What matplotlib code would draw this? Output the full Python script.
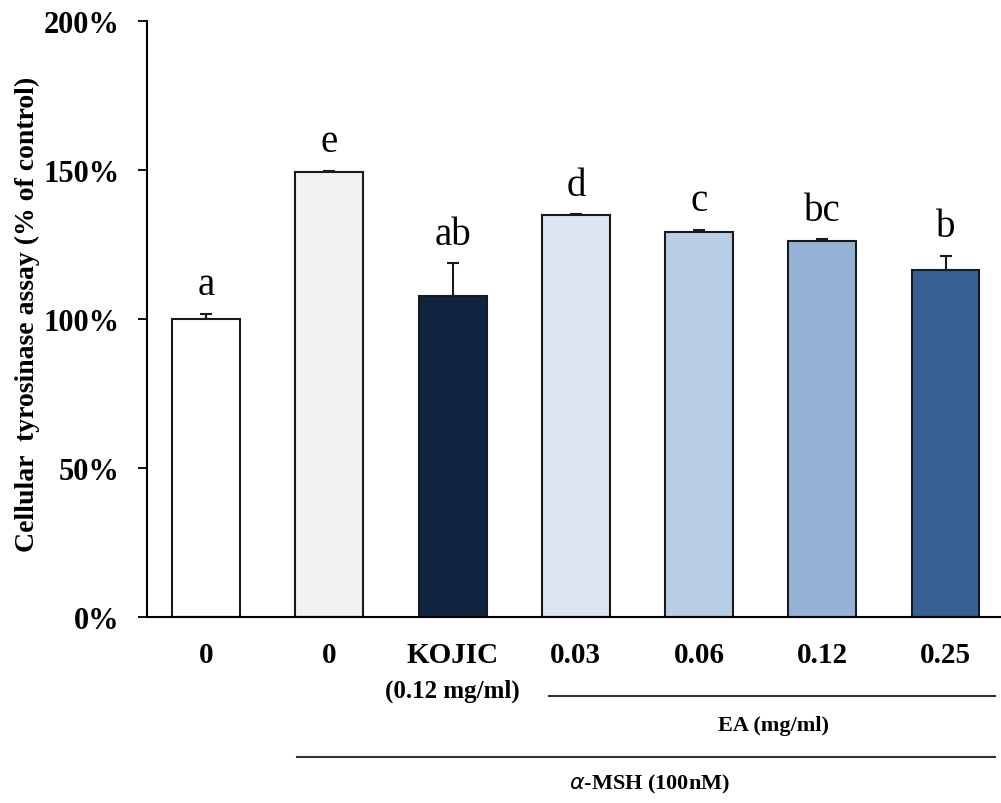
import numpy as np
import matplotlib.pyplot as plt
from matplotlib.transforms import blended_transform_factory

# данные
groups = ['0', '0', 'KOJIC', '0.03', '0.06', '0.12', '0.25']
values = [100.0, 149.2, 107.6, 134.8, 129.3, 126.2, 116.3]
errors = [1.8, 0.6, 11.2, 0.3, 0.6, 0.6, 4.9]
letters = ['a', 'e', 'ab', 'd', 'c', 'bc', 'b']
colors = ['#FFFFFF', '#F2F2F2', '#10243F', '#DCE6F2', '#B9CDE5', '#95B3D7', '#376092']
yticks = [0, 50, 100, 150, 200]

serif = 'Liberation Serif'

fig = plt.figure(figsize=(10.01, 8.04), dpi=100)
ax = fig.add_axes([147 / 1001, 186 / 804, 1 - 147 / 1001, 596 / 804])

x = np.arange(len(values))
ax.bar(x, values, width=0.55, color=colors, edgecolor='#1a1a1a', linewidth=1.5, zorder=2)
ax.errorbar(x, values, yerr=[np.zeros(len(errors)), errors], fmt='none',
            ecolor='#1a1a1a', elinewidth=1.5, capsize=4.5, capthick=1.5, zorder=1)

# буквы значимости над столбцами
for xi, v, e, lab in zip(x, values, errors, letters):
    ax.text(xi, v + e + 3.5, lab, ha='center', va='bottom', fontsize=28, family=serif)

ax.set_xlim(-0.48, 6.45)
ax.set_ylim(0, 200)
ax.set_yticks(yticks)
ax.set_yticklabels([f'{t}%' for t in yticks], fontsize=22, fontweight='bold', family=serif)
ax.tick_params(axis='y', direction='out', length=6.5, width=1.3, pad=13)
ax.set_xticks(x)
ax.set_xticklabels(groups, fontsize=21, fontweight='bold', family=serif)
ax.tick_params(axis='x', length=0, pad=17)

for s in ['top', 'right']:
    ax.spines[s].set_visible(False)
ax.spines['left'].set_linewidth(1.5)
ax.spines['bottom'].set_linewidth(1.5)

ax.set_ylabel('Cellular  tyrosinase assay (% of control)', fontsize=20, fontweight='bold',
              family=serif, va='center')
ax.yaxis.set_label_coords(-0.1395, 0.51)

# подписи групп под осью
tr = blended_transform_factory(ax.transData, ax.transAxes)
ax.text(2, -0.1225, '(0.12 mg/ml)', ha='center', va='center', fontsize=18,
        fontweight='bold', family=serif, transform=tr)
ax.plot([2.78, 6.4], [-0.1326, -0.1326], color='#333333', lw=1.5, transform=tr, clip_on=False)
ax.text(4.6, -0.181, 'EA (mg/ml)', ha='center', va='center', fontsize=16,
        fontweight='bold', family=serif, transform=tr)
ax.plot([0.74, 6.4], [-0.235, -0.235], color='#333333', lw=1.5, transform=tr, clip_on=False)
ax.text(3.6, -0.280, r'$\alpha$-MSH (100nM)', ha='center', va='center', fontsize=16,
        fontweight='bold', family=serif, transform=tr)

fig.savefig('out.png', dpi=100)
